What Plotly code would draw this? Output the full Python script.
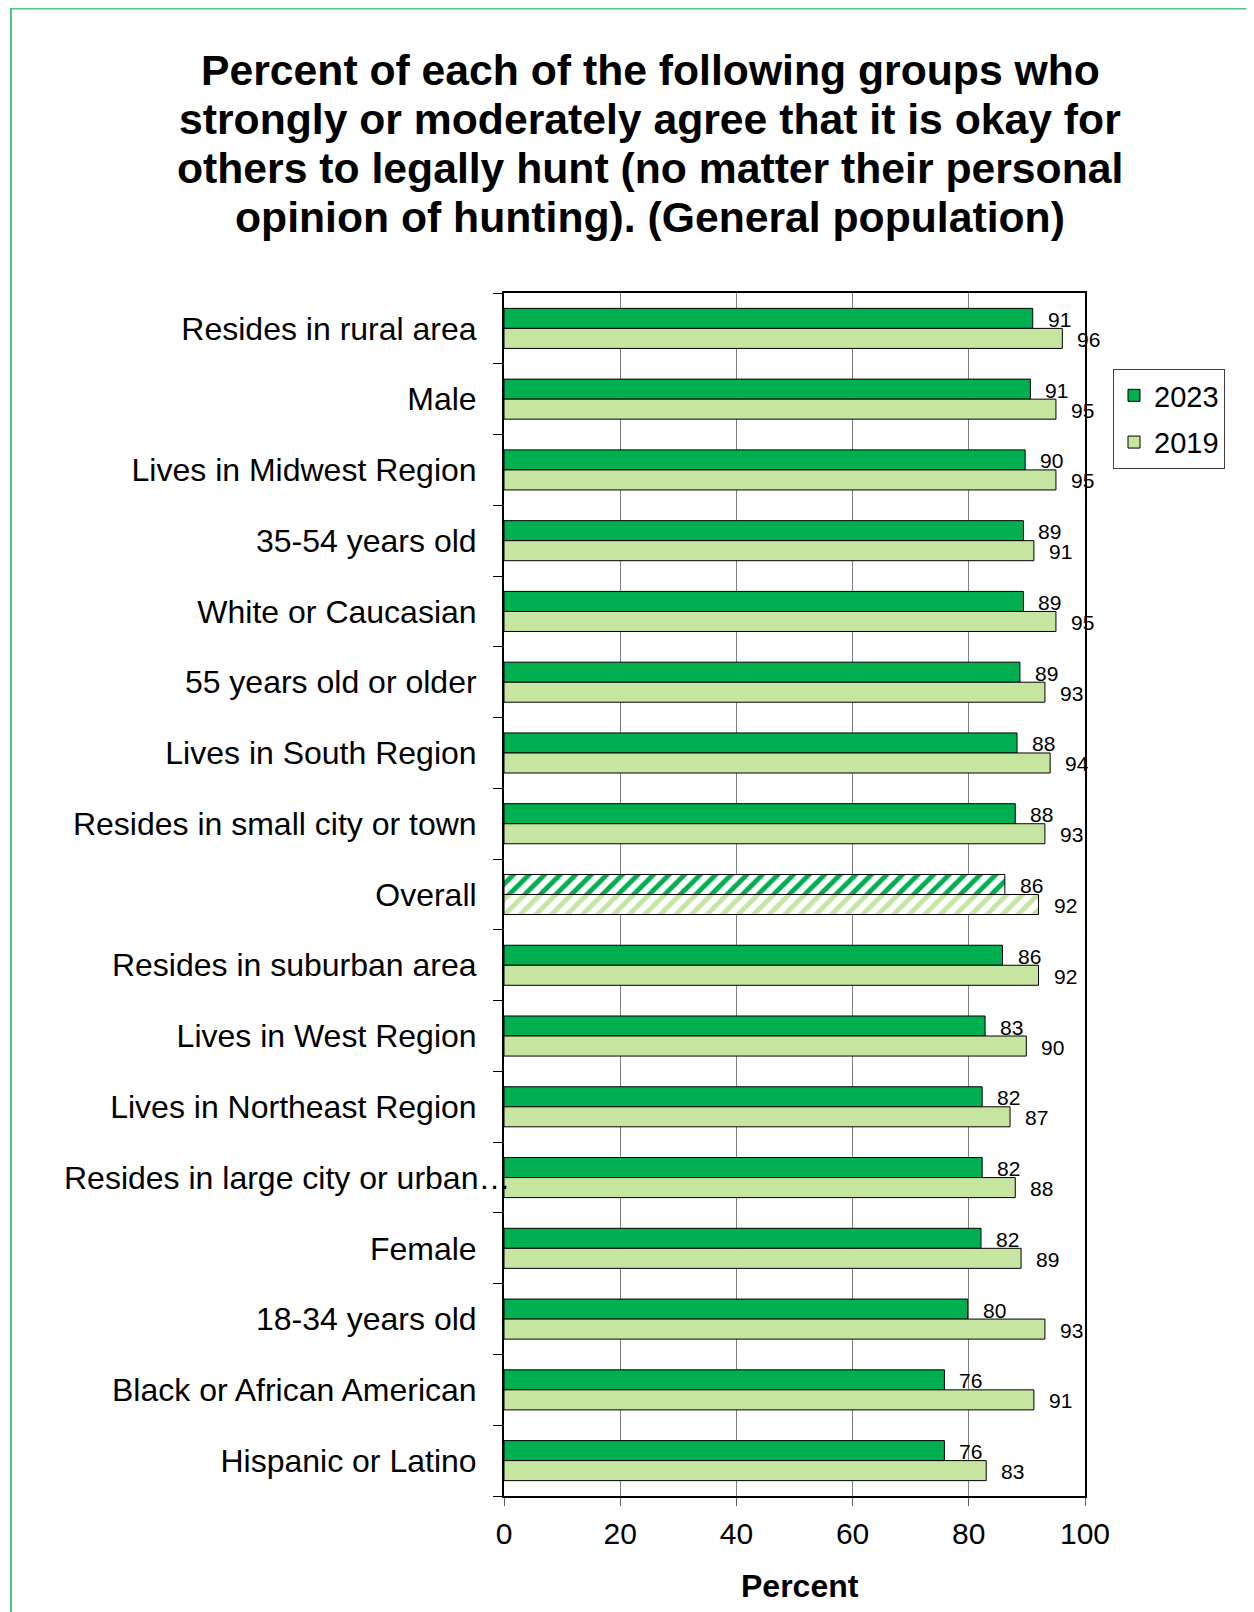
import plotly.graph_objects as go

categories = [
    "Resides in rural area",
    "Male",
    "Lives in Midwest Region",
    "35-54 years old",
    "White or Caucasian",
    "55 years old or older",
    "Lives in South Region",
    "Resides in small city or town",
    "Overall",
    "Resides in suburban area",
    "Lives in West Region",
    "Lives in Northeast Region",
    "Resides in large city or urban…",
    "Female",
    "18-34 years old",
    "Black or African American",
    "Hispanic or Latino",
]
values_2023 = [91.0, 90.6, 89.7, 89.4, 89.4, 88.8, 88.3, 88.0, 86.2, 85.8, 82.8, 82.3, 82.3, 82.1, 79.8, 75.8, 75.8]
values_2019 = [96.1, 95.0, 95.0, 91.2, 95.0, 93.1, 94.0, 93.1, 92.0, 92.0, 89.9, 87.1, 88.0, 89.0, 93.1, 91.2, 83.0]
series_names = ["2023", "2019"]
title_lines = [
    "Percent of each of the following groups who",
    "strongly or moderately agree that it is okay for",
    "others to legally hunt (no matter their personal",
    "opinion of hunting). (General population)",
]
x_ticks = [0, 20, 40, 60, 80, 100]
overflow_label = "Resides in large city or urban…"

DARK = "#00B050"
LIGHT = "#C6E5A1"
FONT = "Liberation Sans, Arial, sans-serif"

# the page body adds an 8px offset; work in page pixels and convert
OFF = 8
W, H = 1254 - OFF, 1612 - OFF
L, R, T, B = 496, 169, 285, 116
PW, PH = W - L - R, H - T - B


def px_x(p):
    return (p - OFF - L) / PW


def px_y(p):
    return (H - B - (p - OFF)) / PH


def pattern_shapes(cat_list):
    return ["/" if c == "Overall" else "" for c in cat_list]


fig = go.Figure()
for name, vals, col in [(series_names[0], values_2023, DARK), (series_names[1], values_2019, LIGHT)]:
    fig.add_trace(go.Bar(
        name=name,
        legendgroup=name,
        y=categories,
        x=vals,
        orientation="h",
        marker=dict(
            color=col,
            line=dict(color="black", width=1),
            pattern=dict(
                shape=pattern_shapes(categories),
                fgcolor=col,
                bgcolor="white",
                size=11,
                solidity=0.45,
                fillmode="replace",
            ),
        ),
    ))

annotations = []
for vals, ysh in [(values_2023, 9), (values_2019, -11)]:
    for c, v in zip(categories, vals):
        annotations.append(dict(
            x=v, y=c, xref="x", yref="y", text=f"{v:.0f}",
            showarrow=False, xanchor="left", yanchor="middle",
            xshift=13, yshift=ysh,
            font=dict(family=FONT, size=21, color="black"),
        ))

# the long category label overflows towards the axis, as in the original
annotations.append(dict(
    x=px_x(62), y=overflow_label, xref="paper", yref="y",
    text=overflow_label, showarrow=False,
    xanchor="left", yanchor="middle",
    font=dict(family=FONT, size=32, color="black"),
))

title_y = [70, 119, 168, 217]
for line, py in zip(title_lines, title_y):
    annotations.append(dict(
        x=px_x(650), y=px_y(py), xref="paper", yref="paper",
        text=f"<b>{line}</b>", showarrow=False,
        xanchor="center", yanchor="middle",
        font=dict(family=FONT, size=42.7, color="black"),
    ))

annotations.append(dict(
    x=px_x(800), y=px_y(1586), xref="paper", yref="paper",
    text="<b>Percent</b>", showarrow=False,
    xanchor="center", yanchor="middle",
    font=dict(family=FONT, size=32, color="black"),
))

GREEN_BORDER = "#4DC784"
shapes = [
    dict(type="line", xref="paper", yref="paper",
         x0=px_x(11), x1=px_x(11), y0=px_y(8), y1=px_y(1620),
         line=dict(color=GREEN_BORDER, width=2)),
    dict(type="line", xref="paper", yref="paper",
         x0=px_x(11), x1=px_x(1260), y0=px_y(8.5), y1=px_y(8.5),
         line=dict(color=GREEN_BORDER, width=2)),
]

fig.update_layout(
    width=W, height=H,
    margin=dict(l=L, r=R, t=T, b=B, autoexpand=False),
    paper_bgcolor="white",
    plot_bgcolor="white",
    barmode="group",
    bargap=0.434,
    bargroupgap=0,
    font=dict(family=FONT, color="black"),
    showlegend=True,
    legend=dict(
        x=px_x(1113), y=px_y(369), xanchor="left", yanchor="top",
        xref="paper", yref="paper",
        bgcolor="white", bordercolor="#404040", borderwidth=1,
        font=dict(family=FONT, size=29, color="black"),
        itemwidth=30, traceorder="grouped", tracegroupgap=6,
    ),
    annotations=annotations,
    shapes=shapes,
)

fig.update_xaxes(
    range=[0, 100], tickvals=x_ticks, ticktext=[str(t) for t in x_ticks],
    showgrid=True, gridcolor="#808080", gridwidth=1,
    zeroline=False,
    showline=True, linecolor="black", linewidth=2, mirror=True,
    ticks="outside", ticklen=8, tickcolor="#606060",
    ticklabelstandoff=2,
    tickfont=dict(family=FONT, size=30, color="black"),
)
fig.update_yaxes(
    type="category", autorange="reversed",
    tickvals=categories,
    ticktext=["" if c == overflow_label else c for c in categories],
    showgrid=False, zeroline=False,
    showline=True, linecolor="black", linewidth=2, mirror=True,
    ticks="outside", tickson="boundaries", ticklen=9, tickcolor="black",
    ticklabelstandoff=19,
    tickfont=dict(family=FONT, size=32, color="black"),
)

fig.write_html("out.html")
